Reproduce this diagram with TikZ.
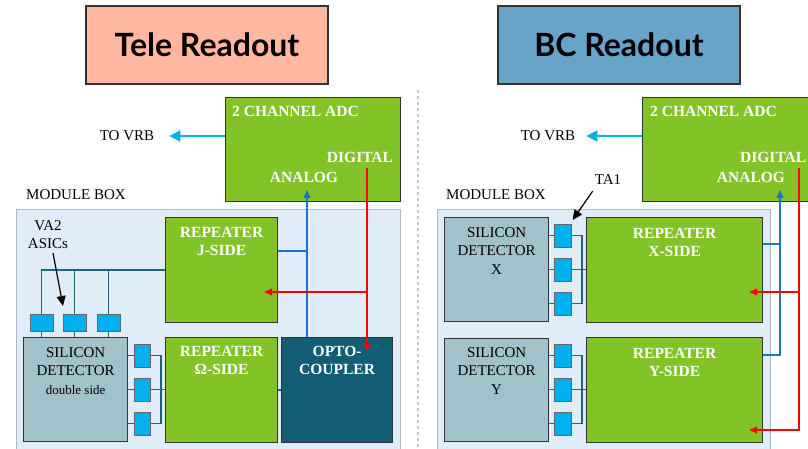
\documentclass[tikz,border=0pt]{standalone}
\usepackage{fontspec}
\setmainfont{Liberation Serif}
\newfontfamily\latofont{Lato}
\usepackage{xcolor}
\definecolor{salmon}{RGB}{255,183,160}
\definecolor{steel}{RGB}{104,163,200}
\definecolor{verde}{RGB}{130,196,40}
\definecolor{cian}{RGB}{0,176,240}
\definecolor{silicio}{RGB}{161,193,203}
\definecolor{caja}{RGB}{224,236,247}
\definecolor{cajaborde}{RGB}{175,185,195}
\definecolor{petroleo}{RGB}{18,94,116}
\definecolor{cable}{RGB}{32,100,125}
\definecolor{analogico}{RGB}{28,118,200}
\definecolor{divisor}{RGB}{185,200,212}
\usepackage{tikz}
\usetikzlibrary{calc, positioning, arrows.meta}
\newcommand{\lblsize}{\fontsize{15}{18.5}\selectfont}
\newcommand{\boldsize}{\fontsize{15.5}{18.5}\selectfont}

\begin{document}
\begin{tikzpicture}[x=1pt, y=-1pt,
  titlebox/.style={rectangle, draw=black!80, line width=1.2pt, minimum width=242pt, minimum height=78pt, font=\latofont\bfseries\fontsize{32}{36}\selectfont},
  block/.style={rectangle, draw=black!80, line width=1.2pt, anchor=north west, inner sep=0pt},
  repbox/.style={block, fill=verde},
  detbox/.style={block, fill=silicio, minimum width=104pt, minimum height=104pt},
  asicv/.style={block, fill=cian, draw=black!60, line width=0.6pt, minimum width=16pt, minimum height=23pt},
  asich/.style={asicv, minimum width=23pt, minimum height=17pt},
  lbl/.style={text=white, font=\bfseries\boldsize, align=center, inner sep=0pt},
  txt/.style={font=\lblsize, align=center, inner sep=0pt},
  wire/.style={draw=cable, line width=1.3pt},
  ana/.style={draw=analogico, line width=1.3pt},
  dig/.style={draw=red, line width=1.3pt},
  tip/.style={-{Triangle[length=8pt,width=7pt]}},
  vrb/.style={draw=cian, line width=2pt, -{Triangle[length=11pt,width=11pt]}},
  callout/.style={draw=black, line width=1.2pt, -{Triangle[length=10pt,width=9pt]}}
]
  \clip (0,0) rectangle (808,448);
  \fill[white] (0,0) rectangle (808,448);

  % titles
  \node[titlebox, fill=salmon] (teleT) at (207,45) {Tele Readout};
  \node[titlebox, fill=steel] (bcT) at (619,45) {BC Readout};
  \draw[divisor, line width=1.5pt, dash pattern=on 3pt off 3pt] (418,90) -- (418,448);

  %% Tele readout
  \node[repbox, minimum width=175pt, minimum height=104pt] (adcL) at (225,97) {};
  \node[lbl, anchor=north west] at ($(adcL.north west)+(7,9)$) {2 CHANNEL ADC};
  \node[lbl, anchor=north east] at ($(adcL.north east)+(-8,55)$) {DIGITAL};
  \node[lbl, anchor=north] at (304,172) {ANALOG};

  \node[txt] (vrbL) at (127,136) {TO VRB};
  \draw[vrb] (adcL.west |- vrbL) -- ([xshift=15pt]vrbL.east);

  \node[txt, anchor=west] at (26,195) {MODULE BOX};
  \draw[fill=caja, draw=cajaborde, line width=1pt] (16,209) rectangle (400,470);

  \node[repbox, minimum width=112pt, minimum height=105pt] (rJ) at (165,217) {};
  \node[lbl, below=10pt of rJ.north] {REPEATER\\J-SIDE};
  \node[repbox, minimum width=112pt, minimum height=105pt] (rO) at (165,337) {};
  \node[lbl, below=9pt of rO.north] {REPEATER\\Ω-SIDE};
  \node[block, fill=petroleo, minimum width=111pt, minimum height=105pt] (opto) at (281,337) {};
  \node[lbl, below=9pt of opto.north] {OPTO-\\COUPLER};

  \node[detbox] (detL) at (23,337) {};
  \node[txt, below=10pt of detL.north] {SILICON\\DETECTOR\\{\fontsize{13}{18.5}\selectfont double side}};

  % VA2 chips on top of the detector
  \node[asich] (a1) at (30,314) {};
  \node[asich] (a2) at (63,314) {};
  \node[asich] (a3) at (97,314) {};
  \foreach \a in {a1,a2,a3}
    \draw[wire] (\a.south) -- (\a.south |- detL.north);
  \draw[wire] (a1.north) |- (rJ.west);
  \foreach \a in {a2,a3}
    \draw[wire] (\a.north) -- (\a.north |- rJ.west);

  \node[txt, anchor=north] (va2) at (48,220) {VA2\\ASICs};
  \draw[callout] ($(va2.south)+(5,4)$) -- ($(a2.north west)+(0,-8)$);

  % VA2 chips on the side
  \node[asicv] (s1) at (134,344) {};
  \node[asicv] (s2) at (134,378) {};
  \node[asicv] (s3) at (134,412) {};
  \foreach \s in {s1,s2,s3}
    \draw[wire] (\s.west -| detL.east) -- (\s.west);
  \coordinate (busL) at ($(s2.east)!0.73!(s2.east -| rO.west)$);
  \draw[wire] (s1.east) -| (busL) |- (s3.east);
  \draw[wire] (s2.east) -- (s2.east -| rO.west);
  \draw[wire] (rO.east) -- (opto.west);

  % analog and digital lines
  \coordinate (anL) at (307,190);
  \coordinate (jL) at ($(rJ.north east)+(0,34)$);
  \draw[ana, tip] (anL |- opto.north) -- (anL);
  \draw[ana] (jL) -- (anL |- jL);
  \coordinate (dgL) at (367,168);
  \coordinate (brL) at ($(rJ.north east)+(0,75)$);
  \draw[dig, tip] (dgL) -- ($(dgL |- opto.north)+(0,14)$);
  \draw[dig, tip] (dgL |- brL) -- ($(brL)+(-14,0)$);

  %% BC readout
  \node[repbox, minimum width=190pt, minimum height=104pt] (adcR) at (642,97) {};
  \node[lbl, anchor=north west] at ($(adcR.north west)+(8,9)$) {2 CHANNEL ADC};
  \node[lbl, anchor=north west] at (740,152) {DIGITAL};
  \node[lbl, anchor=north] at (751,172) {ANALOG};

  \node[txt] (vrbR) at (548,136) {TO VRB};
  \draw[vrb] (adcR.west |- vrbR) -- ([xshift=11pt]vrbR.east);

  \node[txt, anchor=west] at (446,195) {MODULE BOX};
  \node[txt] (ta1) at (608,180) {TA1};
  \draw[fill=caja, draw=cajaborde, line width=1pt] (437,209) rectangle (770,470);

  \node[detbox] (detX) at (444,217) {};
  \node[txt, below=10pt of detX.north] {SILICON\\DETECTOR\\X};
  \node[detbox, minimum height=103pt] (detY) at (444,338) {};
  \node[txt, below=9pt of detY.north] {SILICON\\DETECTOR\\Y};

  \node[repbox, minimum width=176pt, minimum height=105pt] (rX) at (586,217) {};
  \node[lbl, below=11pt of rX.north] {REPEATER\\X-SIDE};
  \node[repbox, minimum width=176pt, minimum height=105pt] (rY) at (586,337) {};
  \node[lbl, below=11pt of rY.north] {REPEATER\\Y-SIDE};

  % TA1 chips
  \node[asicv, minimum width=17pt] (xa1) at (554,224) {};
  \node[asicv, minimum width=17pt] (xa2) at (554,258) {};
  \node[asicv, minimum width=17pt] (xa3) at (554,292) {};
  \node[asicv, minimum width=17pt] (ya1) at (554,344) {};
  \node[asicv, minimum width=17pt] (ya2) at (554,378) {};
  \node[asicv, minimum width=17pt] (ya3) at (554,412) {};
  \draw[callout] ($(ta1.south west)+(-2,6)$) -- ($(xa1.north east)+(1,-4)$);

  \foreach \s in {xa1,xa2,xa3}
    \draw[wire] (\s.west -| detX.east) -- (\s.west);
  \foreach \s in {ya1,ya2,ya3}
    \draw[wire] (\s.west -| detY.east) -- (\s.west);
  \coordinate (busX) at ($(xa2.east)!0.73!(xa2.east -| rX.west)$);
  \coordinate (busY) at ($(ya2.east)!0.73!(ya2.east -| rY.west)$);
  \draw[wire] (xa1.east) -| (busX) |- (xa3.east);
  \draw[wire] (xa2.east) -- (xa2.east -| rX.west);
  \draw[wire] (ya1.east) -| (busY) |- (ya3.east);
  \draw[wire] (ya2.east) -- (ya2.east -| rY.west);

  % analog and digital lines
  \coordinate (anR) at (780,190);
  \coordinate (jX) at ($(rX.north east)+(0,27)$);
  \draw[ana, tip] ($(rY.north east)+(0,18)$) -| (anR);
  \draw[ana] (jX) -- (anR |- jX);
  \coordinate (dgR) at (799,168);
  \coordinate (brX) at ($(rX.north east)+(0,75)$);
  \draw[dig, tip] (dgR) |- ($(rY.north east)+(-14,93)$);
  \draw[dig, tip] (dgR |- brX) -- ($(brX)+(-14,0)$);
\end{tikzpicture}
\end{document}
